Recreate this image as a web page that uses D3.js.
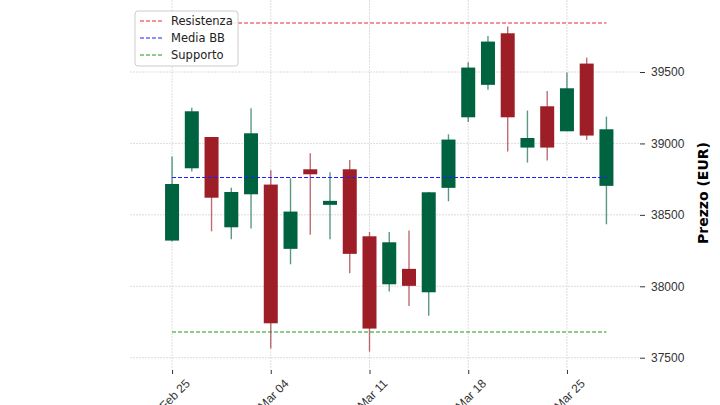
<!DOCTYPE html>
<html><head><meta charset="utf-8">
<script src="https://cdn.jsdelivr.net/npm/d3@7"></script>
<style>body{margin:0;background:#fff;font-family:"DejaVu Sans",sans-serif}</style>
</head><body><div id="chart"></div>
<script>
var opens  = [38320,38826,39045,38413,38644,38712,38262,38819,38570,38819,38350,38014,38122,37958,38689,39183,39410,39771,38971,39260,39085,39559,38703];
var closes = [38716,39225,38620,38660,39071,37741,38523,38784,38598,38227,37704,38308,38003,38658,39027,39531,39713,39183,39038,38971,39386,39055,39099];
var highs  = [38908,39250,39045,38690,39246,38812,38756,38931,38798,38884,38380,38380,38390,38660,39064,39568,39752,39818,39230,39367,39496,39601,39188];
var lows   = [38313,38803,38385,38330,38404,37564,38154,38360,38330,38091,37543,37963,37862,37793,38595,39150,39375,38943,38866,38880,39085,39025,38434];
var tickIdx = [0,5,10,15,20];
var tickLabels = ["Feb 25","Mar 04","Mar 11","Mar 18","Mar 25"];
var yTicks = [37500,38000,38500,39000,39500];
var levels = [{name:"Resistenza",value:39843,color:"#e8262b"},
              {name:"Media BB",value:38762,color:"#1f1fff"},
              {name:"Supporto",value:37680,color:"#1a9a1a"}];

(function() {
  "use strict";
  var width = 720, height = 405;
  var plotLeft = 130, plotRight = 640, plotTop = 0, plotBottom = 370;
  var green = "#006340", red = "#9e1e28";

  var svg = d3.select("#chart").append("svg").attr("width", width).attr("height", height);
  var x = d3.scaleLinear().domain([-2.13, 23.7]).range([plotLeft, plotRight]);
  var y = d3.scaleLinear().domain([37414, 40004]).range([plotBottom, plotTop]);

  // grid
  svg.append("g").selectAll("line").data(yTicks).enter().append("line")
    .attr("x1", plotLeft).attr("x2", plotRight).attr("y1", d => y(d)).attr("y2", d => y(d))
    .attr("stroke", "#d4d4d4").attr("stroke-dasharray", "2,1").attr("stroke-width", 0.8);
  svg.append("g").selectAll("line").data(tickIdx).enter().append("line")
    .attr("x1", d => x(d)).attr("x2", d => x(d)).attr("y1", plotTop).attr("y2", plotBottom)
    .attr("stroke", "#d4d4d4").attr("stroke-dasharray", "2,1").attr("stroke-width", 0.8);

  // axes
  var yAxis = svg.append("g").attr("transform", "translate(" + plotRight + ",0)")
    .call(d3.axisRight(y).tickValues(yTicks).tickSize(5).tickPadding(6).tickFormat(d3.format("d")));
  yAxis.select(".domain").remove();
  yAxis.selectAll("text").attr("font-size", 12).attr("fill", "#333");
  yAxis.selectAll("line").attr("stroke", "#333");

  var xAxis = svg.append("g").attr("transform", "translate(0," + plotBottom + ")")
    .call(d3.axisBottom(x).tickValues(tickIdx).tickSize(4).tickFormat((d, i) => tickLabels[i]));
  xAxis.select(".domain").remove();
  xAxis.selectAll("line").attr("stroke", "#333");
  xAxis.selectAll("text").attr("font-size", 12).attr("fill", "#333")
    .attr("text-anchor", "end").attr("dx", "0.4em").attr("dy", "1em")
    .attr("transform", "rotate(-45) translate(-2,4)");

  svg.append("text").attr("transform", "translate(708," + (plotBottom / 2 + 8) + ") rotate(-90)")
    .attr("text-anchor", "middle").attr("font-size", 14).attr("font-weight", "bold").text("Prezzo (EUR)");

  // candles
  var idx = d3.range(opens.length);
  var bw = 14;
  svg.append("g").selectAll("line").data(idx).enter().append("line")
    .attr("x1", i => x(i)).attr("x2", i => x(i))
    .attr("y1", i => y(highs[i])).attr("y2", i => y(lows[i]))
    .attr("stroke", i => closes[i] >= opens[i] ? green : red)
    .attr("stroke-opacity", 0.65).attr("stroke-width", 1.4);
  svg.append("g").selectAll("rect").data(idx).enter().append("rect")
    .attr("x", i => x(i) - bw / 2).attr("width", bw)
    .attr("y", i => y(Math.max(opens[i], closes[i])))
    .attr("height", i => Math.max(2, Math.abs(y(opens[i]) - y(closes[i]))))
    .attr("fill", i => closes[i] >= opens[i] ? green : red);

  // level lines
  svg.append("g").selectAll("line").data(levels).enter().append("line")
    .attr("x1", x(0)).attr("x2", x(opens.length - 1))
    .attr("y1", d => y(d.value)).attr("y2", d => y(d.value))
    .attr("stroke", d => d.color).attr("stroke-width", 1.1).attr("stroke-dasharray", "4,2");

  // legend
  var lg = svg.append("g").attr("transform", "translate(135,11)");
  lg.append("rect").attr("width", 103).attr("height", 55).attr("rx", 3)
    .attr("fill", "#fff").attr("fill-opacity", 0.85).attr("stroke", "#ccc");
  levels.forEach(function(d, i) {
    var gy = 10 + i * 17;
    lg.append("line").attr("x1", 5).attr("x2", 27).attr("y1", gy).attr("y2", gy)
      .attr("stroke", d.color).attr("stroke-width", 1.1).attr("stroke-dasharray", "4,2");
    lg.append("text").attr("x", 36).attr("y", gy + 4).attr("font-size", 11.5).attr("fill", "#222").text(d.name);
  });
})();
</script></body></html>
